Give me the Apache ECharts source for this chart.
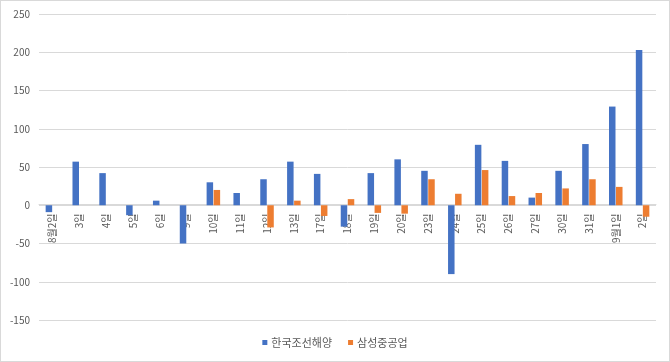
<!DOCTYPE html>
<html>
<head>
<meta charset="utf-8">
<script src="https://cdn.jsdelivr.net/npm/echarts@6/dist/echarts.min.js"></script>
<style>
html,body{margin:0;padding:0;background:#fff;}
#c{width:670px;height:362px;box-sizing:border-box;border:1px solid #d9d9d9;}
</style>
</head>
<body>
<div id="c"></div>
<script>
var categories = ['8월2일','3일','4일','5일','6일','9일','10일','11일','12일','13일','17일','18일','19일','20일','23일','24일','25일','26일','27일','30일','31일','9월1일','2일'];
var seriesNames = ['한국조선해양','삼성중공업'];
var koreaShip = [-9,57,42,-13,6,-50,30,16,34,57,41,-28,42,60,45,-90,79,58,10,45,80,129,203];
var samsungHeavy = [0,0,0,0,0,0,20,0,-29,6,-14,8,-10,-11,34,15,46,12,16,22,34,24,-15];
var yTicks = {min:-150, max:250, interval:50};

var font = '"Noto Sans CJK KR","Noto Sans",sans-serif';
var gridTop = 13, gridBottom = 41, H = 362;
var plotH = H - gridTop - gridBottom;
var zeroOffset = (0 - yTicks.min) / (yTicks.max - yTicks.min) * plotH;

var chart = echarts.init(document.getElementById('c'));
chart.setOption({
  animation:false,
  backgroundColor:'#fff',
  grid:{left:38, right:13, top:gridTop, bottom:gridBottom, containLabel:false},
  legend:{
    bottom:8, left:'center', itemWidth:5, itemHeight:5, itemGap:16,
    icon:'rect',
    textStyle:{color:'#595959', fontSize:11, fontFamily:font, padding:[0,0,0,-1]},
    data:seriesNames
  },
  xAxis:{
    type:'category', data:categories,
    offset:-zeroOffset,
    axisLine:{show:true, onZero:false, lineStyle:{color:'#d9d9d9'}},
    axisTick:{show:false},
    axisLabel:{interval:0, rotate:90, color:'#595959', fontSize:10, fontFamily:font, margin:9}
  },
  yAxis:{
    type:'value', min:yTicks.min, max:yTicks.max, interval:yTicks.interval,
    axisLine:{show:false}, axisTick:{show:false},
    splitLine:{lineStyle:{color:'#d9d9d9'}},
    axisLabel:{color:'#595959', fontSize:10, fontFamily:font, margin:9}
  },
  series:[
    {name:seriesNames[0], type:'bar', data:koreaShip, itemStyle:{color:'#4472C4'}, barWidth:6.5, barGap:'8%'},
    {name:seriesNames[1], type:'bar', data:samsungHeavy, itemStyle:{color:'#ED7D31'}, barWidth:6.5, barGap:'8%'}
  ]
});
</script>
</body>
</html>
